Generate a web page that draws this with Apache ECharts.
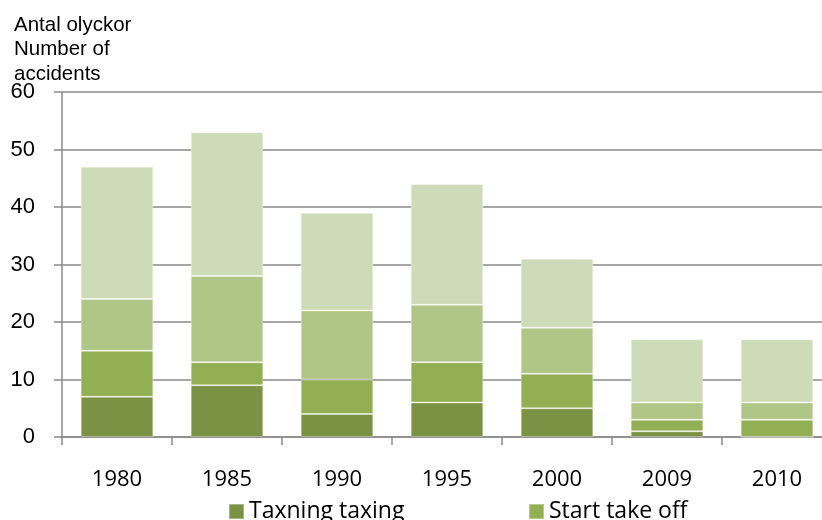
<!DOCTYPE html>
<html>
<head>
<meta charset="utf-8">
<script src="https://cdn.jsdelivr.net/npm/echarts@6/dist/echarts.min.js"></script>
<style>html,body{margin:0;padding:0;background:#fff;}#c{width:822px;height:520px;}</style>
</head>
<body>
<div id="c"></div>
<script>
var categories = ['1980', '1985', '1990', '1995', '2000', '2009', '2010'];
var seriesNames = ['Taxning taxing', 'Start take off', 'Landning landing', 'Övrigt other'];
var taxing = [7, 9, 4, 6, 5, 1, 0];
var takeoff = [8, 4, 6, 7, 6, 2, 3];
var third = [9, 15, 12, 10, 8, 3, 3];
var fourth = [23, 25, 17, 21, 12, 11, 11];
var yTicks = [0, 10, 20, 30, 40, 50, 60];
var titleText = 'Antal olyckor\nNumber of\naccidents';

var colors = ['#7b9144', '#92af54', '#afc687', '#cedbb8'];
var values = [taxing, takeoff, third, fourth];

var chart = echarts.init(document.getElementById('c'));
var series = values.map(function (v, i) {
  return {
    name: seriesNames[i],
    type: 'bar',
    stack: 'total',
    data: v,
    barCategoryGap: '34%',
    itemStyle: { color: colors[i], borderColor: 'rgba(255,255,255,0.35)', borderWidth: 1 },
    emphasis: { disabled: true }
  };
});
var legendText = { fontFamily: 'Open Sans', fontSize: 23, color: '#000' };
chart.setOption({
  animation: false,
  title: {
    text: titleText,
    left: 14, top: 13, padding: 0,
    textStyle: { fontFamily: 'Liberation Sans', fontSize: 20.5, fontWeight: 'normal', color: '#000', lineHeight: 24.5 }
  },
  legend: [
    { data: [seriesNames[0]], left: 228, top: 500, padding: 0, itemWidth: 15, itemHeight: 15, itemGap: 6, icon: 'rect', textStyle: legendText, selectedMode: false },
    { data: [seriesNames[1]], left: 528, top: 500, padding: 0, itemWidth: 15, itemHeight: 15, itemGap: 6, icon: 'rect', textStyle: legendText, selectedMode: false }
  ],
  grid: { left: 62, width: 770, top: 92, bottom: 83, containLabel: false, outerBoundsMode: 'none' },
  xAxis: {
    type: 'category',
    data: categories,
    boundaryGap: true,
    axisLine: { lineStyle: { color: '#8a8a8a', width: 1.5 } },
    axisTick: { show: true, length: 8, alignWithLabel: false, lineStyle: { color: '#8a8a8a', width: 1.5 } },
    axisLabel: { fontFamily: 'Open Sans', fontSize: 22, color: '#000', margin: 32 }
  },
  yAxis: {
    type: 'value',
    min: yTicks[0], max: yTicks[yTicks.length - 1], interval: 10,
    axisLine: { show: true, lineStyle: { color: '#8a8a8a', width: 1.5 } },
    axisTick: { show: true, length: 8, lineStyle: { color: '#8a8a8a', width: 1.5 } },
    splitLine: { show: true, lineStyle: { color: '#8a8a8a', width: 1.5 } },
    axisLabel: { fontFamily: 'Liberation Sans', fontSize: 22, color: '#000', margin: 27 }
  },
  series: series
});
</script>
</body>
</html>
